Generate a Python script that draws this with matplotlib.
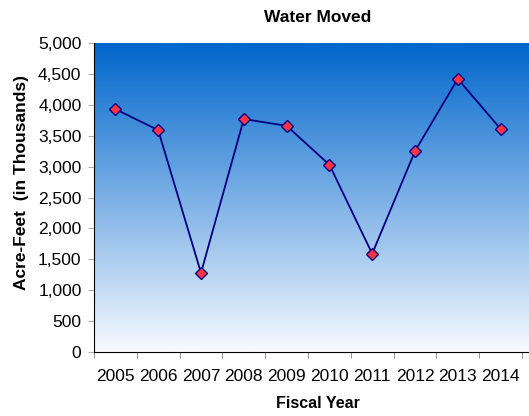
import matplotlib
matplotlib.use("Agg")
import matplotlib.pyplot as plt
import numpy as np
from matplotlib.colors import LinearSegmentedColormap

years = ["2005", "2006", "2007", "2008", "2009", "2010", "2011", "2012", "2013", "2014"]
water_moved = [3930, 3590, 1280, 3770, 3660, 3030, 1590, 3250, 4420, 3610]

plt.rcParams['font.family'] = ['Liberation Sans', 'DejaVu Sans']

fig = plt.figure(figsize=(5.29, 4.16), dpi=100)
W, H = 529, 416
ax = fig.add_axes([94 / W, 64 / H, (529 - 94) / W, 309 / H])

# background gradient (blue at top fading to white)
cmap = LinearSegmentedColormap.from_list("bg", ["#f7faff", "#0066cc"])
grad = np.linspace(0, 1, 256).reshape(-1, 1)
ax.imshow(grad, cmap=cmap, aspect="auto", extent=[0, 1, 0, 1],
          transform=ax.transAxes, origin="lower", zorder=0)

x = np.arange(len(years))
ax.plot(x, water_moved, color="#000080", lw=1.3, marker="D", ms=6,
        mfc="#ff3344", mec="#000080", mew=1, zorder=3)

step = 428 / 10
ax.set_xlim(-0.5, -0.5 + (529 - 94) / step)
ax.set_ylim(0, 5000)
ax.set_yticks(np.arange(0, 5001, 500))
ax.set_yticklabels([f"{v:,}" for v in range(0, 5001, 500)])
ax.set_xticks(x)
ax.set_xticklabels(years)
ax.set_xticks(np.arange(-0.5, 10, 1), minor=True)
ax.tick_params(axis="x", which="major", length=0, labelsize=12.5, pad=12)
ax.tick_params(axis="x", which="minor", length=4, color="#808080")
ax.tick_params(axis="y", length=4, color="#b0b0b0", labelsize=12.5, pad=5)

for s in ["top", "right"]:
    ax.spines[s].set_visible(False)
ax.spines["left"].set_color("black")
ax.spines["bottom"].set_color("black")

fig.text(318 / W, 1 - 17 / H, "Water Moved", ha="center", va="center",
         fontsize=12.5, fontweight="bold")
fig.text(318 / W, 1 - 403 / H, "Fiscal Year", ha="center", va="center",
         fontsize=11.5, fontweight="bold")
fig.text(22 / W, 1 - 182 / H, "Acre-Feet  (in Thousands)", ha="center",
         va="center", rotation=90, fontsize=12.5, fontweight="bold")

fig.savefig("out.png", dpi=100)
